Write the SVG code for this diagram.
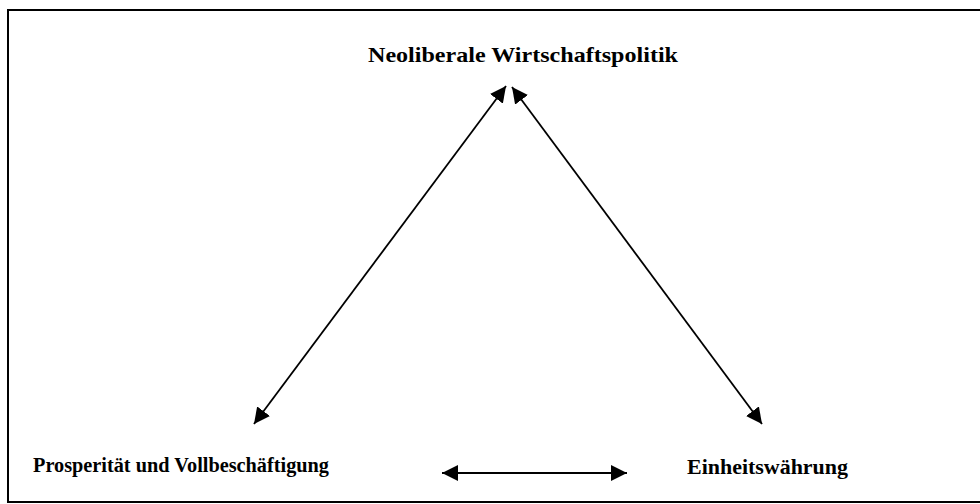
<svg xmlns="http://www.w3.org/2000/svg" width="980" height="504" viewBox="0 0 980 504">
<style>
.lbl{font-family:"Liberation Serif","Times New Roman",serif;font-weight:bold;font-size:22px;fill:#000}
.con{stroke:#000;stroke-width:1.8;fill:none;marker-start:url(#ah);marker-end:url(#ah)}
</style>
<defs>
<marker id="ah" viewBox="0 0 16 16" refX="16" refY="8" markerWidth="16" markerHeight="16" markerUnits="userSpaceOnUse" orient="auto-start-reverse">
<path d="M0,0 L16,8 L0,16 z" fill="#000"/>
</marker>
</defs>
<rect x="8" y="10" width="980" height="492" fill="#fff" stroke="#000" stroke-width="2"/>
<g id="node-top"><text class="lbl" x="368" y="62" textLength="310" lengthAdjust="spacingAndGlyphs">Neoliberale Wirtschaftspolitik</text></g>
<g id="node-left"><text class="lbl" x="33" y="472" textLength="296" lengthAdjust="spacingAndGlyphs">Prosperität und Vollbeschäftigung</text></g>
<g id="node-right"><text class="lbl" x="687" y="474" textLength="161" lengthAdjust="spacingAndGlyphs">Einheitswährung</text></g>
<g id="connectors">
<line class="con" x1="254" y1="424" x2="506" y2="86"/>
<line class="con" x1="512" y1="87" x2="762" y2="424"/>
<line class="con" x1="442" y1="473" x2="627" y2="473"/>
</g>
</svg>
